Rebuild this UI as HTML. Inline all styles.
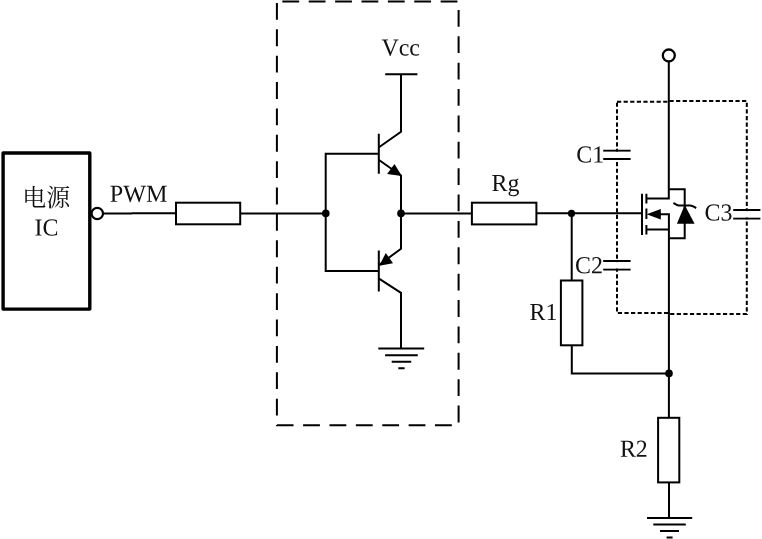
<!DOCTYPE html>
<html><head><meta charset="utf-8"><title>circuit</title>
<style>
html,body{margin:0;padding:0;background:#fff;}
svg{display:block;will-change:transform}
text{font-family:"Liberation Serif","Noto Serif CJK SC",serif;font-size:24.4px;fill:#111}
.cjk{font-family:"Noto Serif CJK SC","Liberation Serif",serif;font-size:24px;font-weight:400;fill:#111}
.w{stroke:#000;stroke-width:2;fill:none;stroke-linecap:butt;stroke-linejoin:miter}
.b{stroke:#000;stroke-width:2;fill:#fff}
.d{fill:#000;stroke:none}
</style></head><body>
<svg width="762" height="539" viewBox="0 0 762 539">
<rect width="762" height="539" fill="#fff"/>
<!-- IC box -->
<rect x="3.1" y="153" width="86.7" height="156.1" fill="none" stroke="#000" stroke-width="3.4" stroke-linejoin="round"/>
<text class="cjk" x="46.3" y="205.7" text-anchor="middle">电源</text>
<text transform="translate(34.6 235.6) scale(.98 1) rotate(.03)">IC</text>
<circle cx="97.3" cy="213.5" r="5.7" class="b" style="stroke-width:2.2"/>
<text transform="translate(109.8 201.8) scale(.99 1) rotate(.03)">PWM</text>
<!-- wire PWM -->
<path class="w" d="M103.5 213.6H131L132 213.3H176M240.2 213.4H326M401 213.4H472M536.4 213.3H642"/>
<rect class="b" x="176" y="202.7" width="64.2" height="21.6"/>
<rect class="b" x="471.9" y="202.7" width="64.5" height="21.7"/>
<!-- big dashed box -->
<path d="M276.9 1.5V425.2H458.6V1.5Z" fill="none" stroke="#000" stroke-width="2" stroke-dasharray="16.8 9.58" stroke-dashoffset="24.93"/>
<!-- transistor wiring -->
<path class="w" d="M379 153.8H325.7V271H379"/>
<path class="w" d="M378.8 133.7V173.8M378.8 250.4V291.5"/>
<path class="w" d="M385.2 74.2H417.4M401 74.1V131.7L379 147.3M379 160L401 175.4V248.7L379 265M379 278.6L401 292.8V348.4"/>
<polygon class="d" points="387.1,174.1 394.5,164 401.8,176"/>
<polygon class="d" points="379.3,265.7 385.8,252.9 393,263.2"/>
<circle class="d" cx="325.8" cy="213.4" r="3.8"/>
<circle class="d" cx="401" cy="213.4" r="3.8"/>
<text transform="translate(381.5 55.4) scale(.98 1) rotate(.03)">Vcc</text>
<!-- ground 1 -->
<path class="w" d="M378.3 348.5H424.2M385.1 355.2H417.8M391.7 361.8H411.2M398.3 368.2H404.6"/>
<text transform="translate(491.5 191) scale(.98 1) rotate(.03)">Rg</text>
<!-- right section -->
<circle class="d" cx="571.5" cy="213.4" r="3.6"/>
<path class="w" d="M571.7 213.4V280.5M571.8 345.3V373.4H669"/>
<rect class="b" x="560.9" y="280.5" width="21.5" height="64.8"/>
<text transform="translate(529.6 320) scale(.98 1) rotate(.03)">R1</text>
<circle class="d" cx="669" cy="373.4" r="3.8"/>
<!-- dotted box -->
<path d="M617 101.8H668.4L669.4 100.9H746.8V314.1H669.4L668.4 313H617Z" fill="none" stroke="#000" stroke-width="2" stroke-dasharray="4.2 2.4"/>
<!-- caps -->
<path class="w" d="M603.2 150.7H630.6M603.2 159.1H630.6M603.2 261H630.6M603.2 269.5H630.6M733.2 210H760.4M733.2 218.5H760.4" />
<rect x="602" y="151.8" width="30" height="6.2" fill="#fff"/>
<rect x="602" y="262.1" width="30" height="6.3" fill="#fff"/>
<rect x="732" y="211.1" width="30" height="6.3" fill="#fff"/>
<text transform="translate(576.2 162.4) scale(.98 1) rotate(.03)">C1</text>
<text transform="translate(575 273.2) scale(.98 1) rotate(.03)">C2</text>
<text transform="translate(704.5 220.6) scale(.98 1) rotate(.03)">C3</text>
<!-- top terminal -->
<circle cx="668.8" cy="55.5" r="6" class="b" style="stroke-width:2.3"/>
<!-- main vertical -->
<path class="w" d="M668.8 62V198.6H646.4M646.4 229.5H668.9M660 214.2H668.9V417.8M669 482.4V517.8"/>
<path class="w" d="M668.8 189.2H684.7V238.2H668.9"/>
<!-- mosfet gate/channel -->
<path class="w" d="M642 193.7V234.9M646.4 193.7V203.4M646.4 208.6V219M646.4 224.9V234.6"/>
<polygon class="d" points="646.6,214.2 660.8,209 660.8,219.5"/>
<polygon class="d" points="684.7,205 676.9,223.8 694.6,223.8"/>
<path class="w" d="M673.4 203C675.2 203.9 676.6 205.4 678.6 205.4H690.1C692.5 205.4 694.5 207.1 696.2 208.1"/>
<rect class="b" x="658.1" y="417.8" width="21.2" height="64.6"/>
<text transform="translate(619.9 456.8) scale(.98 1) rotate(.03)">R2</text>
<!-- ground 2 -->
<path class="w" d="M647 517.9H692.2M653.3 524.5H685.8M660 531.1H679M666.6 537.6H672.6"/>
</svg>
</body></html>
